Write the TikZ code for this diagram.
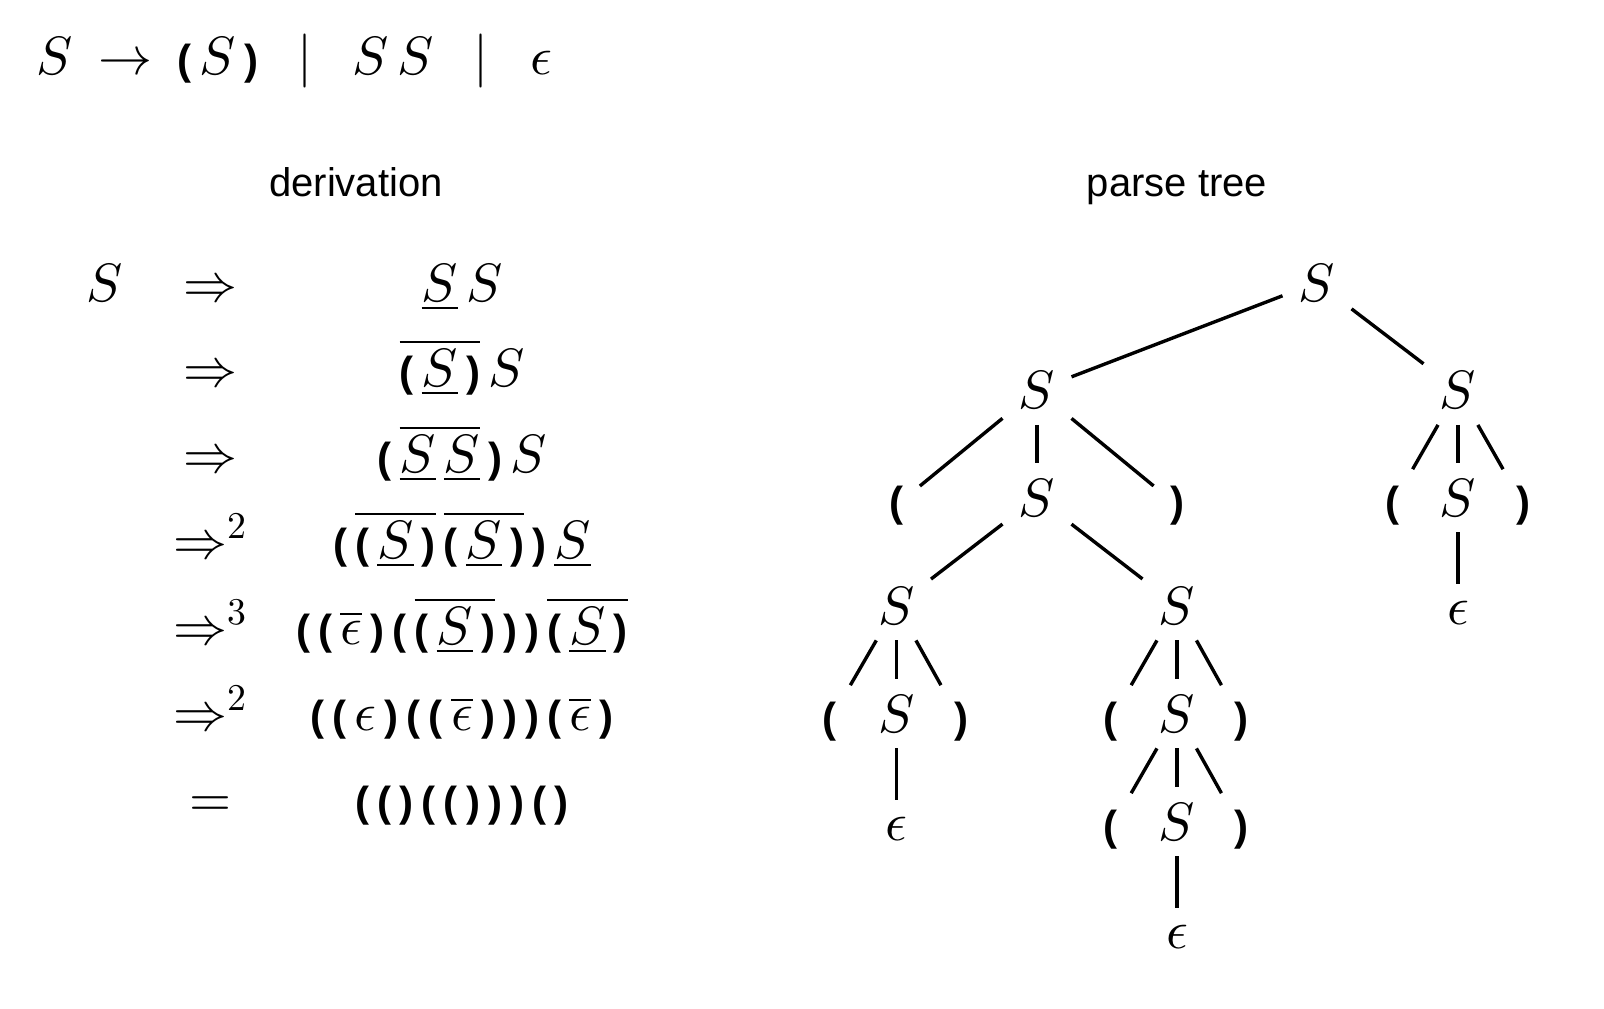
\RequirePackage{fix-cm}
\documentclass[tikz,border=0pt]{standalone}
\usepackage{exscale}
\usepackage{amsmath}
\usepackage{fontspec}
\DeclareFontShape{OML}{cmm}{m}{it}{<->cmmi10}{}
\DeclareFontShape{OMS}{cmsy}{m}{n}{<->cmsy10}{}
\DeclareFontShape{OT1}{cmr}{m}{n}{<->cmr10}{}
\newfontfamily\lblfont{Liberation Sans}
\newfontfamily\pfont{Liberation Sans}
\newcommand\LPt{{\pfont\bfseries\fontsize{21}{21}\selectfont(}}
\newcommand\RPt{{\pfont\bfseries\fontsize{21}{21}\selectfont)}}
\newcommand\LP{\mathord{\hbox{\LPt}}}
\newcommand\RP{\mathord{\hbox{\RPt}}}
\newcommand\uS{\underline{S}}
\thinmuskip=2.7mu
\tikzset{
  mth/.style={anchor=base, inner sep=0pt, font=\fontsize{27}{32}\selectfont},
  lbl/.style={anchor=base, inner sep=0pt, font=\lblfont\fontsize{20}{24}\selectfont},
  tn/.style={anchor=base, inner sep=8pt, font=\fontsize{27}{32}\selectfont},
  edge/.style={line width=1.7pt}
}
\begin{document}
\begin{tikzpicture}[x=0.5pt,y=-0.5pt]
\fill[white] (0,0) rectangle (1604,1008);
\useasboundingbox (0,0) rectangle (1604,1008);
% grammar
\node[mth] (g1) at (54.5,74) {$S$};
\node[mth] (g2) at (125,74) {$\rightarrow$};
\node[mth] (g3) at (218,74) {$\LP\,S\,\RP$};
\node[mth] (g4) at (305,74) {$|$};
\node[mth] (g5) at (393,74) {$S\,S$};
\node[mth] (g6) at (481,74) {$|$};
\node[mth] (g7) at (541,74) {$\epsilon$};
% headings
\node[lbl] (hd) at (356,196.7) {derivation};
\node[lbl] (hp) at (1177,196.7) {parse tree};
% derivation
\node[mth] (d0) at (105,301) {$S$};
\node[mth] (a1) at (210,301) {$\Rightarrow$};
\node[mth] (a2) at (210,386) {$\Rightarrow$};
\node[mth] (a3) at (210,472) {$\Rightarrow$};
\node[mth] (a4) at (210,558) {$\Rightarrow^2$};
\node[mth] (a5) at (210,644) {$\Rightarrow^3$};
\node[mth] (a6) at (210,730) {$\Rightarrow^2$};
\node[mth] (a7) at (210,816) {$=$};
\node[mth] (r1) at (462,301) {$\uS\,S$};
\node[mth] (r2) at (462,386) {$\overline{\LP\,\uS\,\RP}\,S$};
\node[mth] (r3) at (462,472) {$\LP\,\overline{\uS\,\uS}\,\RP\,S$};
\node[mth] (r4) at (462,558) {$\LP\,\overline{\LP\,\uS\,\RP}\,\overline{\LP\,\uS\,\RP}\,\RP\,\uS$};
\node[mth] (r5) at (462,644) {$\LP\,\LP\,\overline{\epsilon}\,\RP\,\LP\,\overline{\LP\,\uS\,\RP}\,\RP\,\RP\,\overline{\LP\,\uS\,\RP}$};
\node[mth] (r6) at (462,730) {$\LP\,\LP\,\epsilon\,\RP\,\LP\,\LP\,\overline{\epsilon}\,\RP\,\RP\,\RP\,\LP\,\overline{\epsilon}\,\RP$};
\node[mth] (r7) at (462,816) {$\LP\,\LP\,\RP\,\LP\,\LP\,\RP\,\RP\,\RP\,\LP\,\RP$};
% parse tree
\node[tn] (t0) at (1317,301) {$S$};
\node[tn] (t1) at (1037,408.5) {$S$};
\node[tn] (t2) at (1458,408.5) {$S$};
\node[tn] (t11) at (896.5,516) {\LPt};
\node[tn] (t12) at (1037,516) {$S$};
\node[tn] (t13) at (1177,516) {\RPt};
\node[tn] (t21) at (1392,516) {\LPt};
\node[tn] (t22) at (1458,516) {$S$};
\node[tn] (t23) at (1523.5,516) {\RPt};
\node[tn] (t221) at (1458,624) {$\epsilon$};
\node[tn] (t121) at (896.5,624) {$S$};
\node[tn] (t122) at (1177,624) {$S$};
\node[tn] (t1211) at (829.5,732) {\LPt};
\node[tn] (t1212) at (896.5,732) {$S$};
\node[tn] (t1213) at (961,732) {\RPt};
\node[tn] (t12121) at (896.5,840) {$\epsilon$};
\node[tn] (t1221) at (1110.5,732) {\LPt};
\node[tn] (t1222) at (1177,732) {$S$};
\node[tn] (t1223) at (1241.5,732) {\RPt};
\node[tn] (t12221) at (1110.5,840) {\LPt};
\node[tn] (t12222) at (1177,840) {$S$};
\node[tn] (t12223) at (1241.5,840) {\RPt};
\node[tn] (t122221) at (1177,948) {$\epsilon$};
\draw[edge] (t0) -- (t1);
\draw[edge] (t0) -- (t2);
\draw[edge] (t1) -- (t11);
\draw[edge] (t1) -- (t12);
\draw[edge] (t1) -- (t13);
\draw[edge] (t2) -- (t21);
\draw[edge] (t2) -- (t22);
\draw[edge] (t2) -- (t23);
\draw[edge] (t22) -- (t221);
\draw[edge] (t12) -- (t121);
\draw[edge] (t12) -- (t122);
\draw[edge] (t121) -- (t1211);
\draw[edge] (t121) -- (t1212);
\draw[edge] (t121) -- (t1213);
\draw[edge] (t1212) -- (t12121);
\draw[edge] (t122) -- (t1221);
\draw[edge] (t122) -- (t1222);
\draw[edge] (t122) -- (t1223);
\draw[edge] (t1222) -- (t12221);
\draw[edge] (t1222) -- (t12222);
\draw[edge] (t1222) -- (t12223);
\draw[edge] (t12222) -- (t122221);
\end{tikzpicture}
\end{document}
